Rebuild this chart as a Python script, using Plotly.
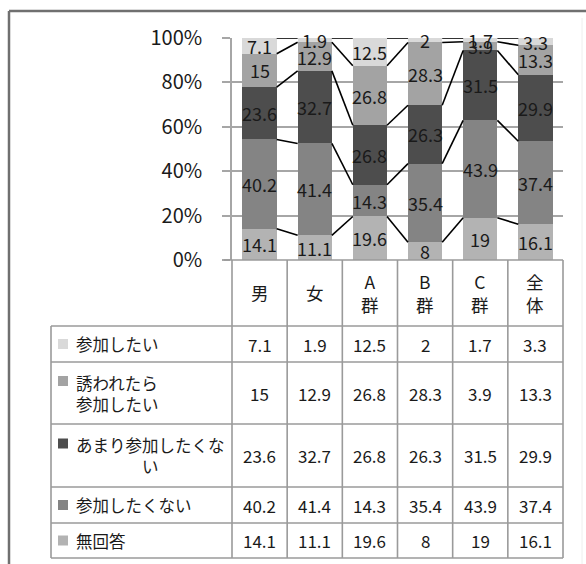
import plotly.graph_objects as go

# ---------------- data ----------------
categories = ["男", "女", "A群", "B群", "C群", "全体"]
series_names = ["参加したい", "誘われたら参加したい", "あまり参加したくない", "参加したくない", "無回答"]
row_labels = ["参加したい", "誘われたら<br>参加したい", "あまり参加したくな<br>い", "参加したくない", "無回答"]
v_sanka = [7.1, 1.9, 12.5, 2, 1.7, 3.3]
v_sasowaretara = [15, 12.9, 26.8, 28.3, 3.9, 13.3]
v_amari = [23.6, 32.7, 26.8, 26.3, 31.5, 29.9]
v_shitakunai = [40.2, 41.4, 14.3, 35.4, 43.9, 37.4]
v_mukaitou = [14.1, 11.1, 19.6, 8, 19, 16.1]
tick_vals = [0, 20, 40, 60, 80, 100]
tick_labels = ["0%", "20%", "40%", "60%", "80%", "100%"]

series_values = [v_sanka, v_sasowaretara, v_amari, v_shitakunai, v_mukaitou]  # table order (top row first)
colors = ["#d9d9d9", "#a3a3a3", "#4d4d4d", "#848484", "#b3b3b3"]

# ---------------- layout constants (pixels) ----------------
W, H = 586, 564
PL, PR = 232, 563          # plot area left/right
Y0, Y100 = 260, 38         # 0% and 100% pixel rows
TL = 51                    # table label column left
ROW_EDGES = [326, 362, 424, 487, 523, 558]
FONT = "Noto Sans CJK JP"
GRID = "#a6a6a6"
TXT = "#1a1a1a"
n = len(categories)
colw = (PR - PL) / n
BAR_W = 0.62


def fx(x):
    return x / W


def fy(y):
    return 1 - y / H


# percent-normalised stacks (bottom to top)
totals = [sum(s[i] for s in series_values) for i in range(n)]
stack_order = list(reversed(range(len(series_values))))  # 無回答 at bottom
pct = {k: [series_values[k][i] / totals[i] * 100 for i in range(n)] for k in range(len(series_values))}

fig = go.Figure()
xs = list(range(n))
for k in stack_order:
    fig.add_trace(go.Bar(
        x=xs, y=pct[k], name=series_names[k], width=BAR_W,
        marker=dict(color=colors[k], line=dict(width=0)),
        hoverinfo="skip", showlegend=False,
    ))

# series lines + bar labels
annotations = []
cum = [0.0] * n
line_x, line_y = [], []
for k in stack_order:
    mids = []
    for i in range(n):
        mids.append(cum[i] + pct[k][i] / 2)
        cum[i] += pct[k][i]
    for i in range(n):
        annotations.append(dict(x=xs[i], y=mids[i], xref="x", yref="y", text=f"{series_values[k][i]:g}",
                                xanchor="center", yanchor="middle",
                                showarrow=False, font=dict(family=FONT, size=18, color=TXT)))
    for i in range(n - 1):
        line_x += [xs[i] + BAR_W / 2, xs[i + 1] - BAR_W / 2, None]
        line_y += [cum[i], cum[i + 1], None]
fig.add_trace(go.Scatter(x=line_x, y=line_y, mode="lines", line=dict(color="black", width=1.6),
                         hoverinfo="skip", showlegend=False))

# ---------------- data table ----------------
shapes = []
tcol = "#9a9a9a"
# outer frame of image
shapes.append(dict(type="line", xref="paper", yref="paper", x0=fx(9), x1=1, y0=fy(11), y1=fy(11),
                   line=dict(color="#707070", width=2.5)))
shapes.append(dict(type="line", xref="paper", yref="paper", x0=fx(9), x1=fx(9), y0=fy(11), y1=0,
                   line=dict(color="#707070", width=2.5)))
shapes.append(dict(type="line", xref="paper", yref="paper", x0=fx(582), x1=fx(582), y0=fy(18), y1=0,
                   line=dict(color="#eeeeee", width=1)))

# horizontal table lines
shapes.append(dict(type="line", xref="paper", yref="paper", x0=fx(PL - 8), x1=fx(PR), y0=fy(Y0), y1=fy(Y0),
                   line=dict(color=tcol, width=1.6)))
for y in ROW_EDGES:
    shapes.append(dict(type="line", xref="paper", yref="paper", x0=fx(TL), x1=fx(PR), y0=fy(y), y1=fy(y),
                       line=dict(color=tcol, width=1.6)))
# vertical table lines
for i in range(n + 1):
    x = PL + i * colw
    shapes.append(dict(type="line", xref="paper", yref="paper", x0=fx(x), x1=fx(x), y0=fy(Y0), y1=fy(ROW_EDGES[-1]),
                       line=dict(color=tcol, width=1.6)))
shapes.append(dict(type="line", xref="paper", yref="paper", x0=fx(TL), x1=fx(TL), y0=fy(ROW_EDGES[0]),
                   y1=fy(ROW_EDGES[-1]), line=dict(color=tcol, width=1.6)))

# header
for i, c in enumerate(categories):
    cx = PL + (i + 0.5) * colw
    annotations.append(dict(x=fx(cx), y=fy((Y0 + ROW_EDGES[0]) / 2), xref="paper", yref="paper",
                            xanchor="center", yanchor="middle",
                            text="<br>".join(list(c)), showarrow=False,
                            font=dict(family=FONT, size=17.5, color=TXT)))

# rows
for r in range(len(series_values)):
    top, bot = ROW_EDGES[r], ROW_EDGES[r + 1]
    cy = (top + bot) / 2
    two_line = "<br>" in row_labels[r]
    ky = cy - 12 if two_line else cy
    shapes.append(dict(type="rect", xref="paper", yref="paper", x0=fx(58), x1=fx(68), y0=fy(ky - 5), y1=fy(ky + 5),
                       fillcolor=colors[r], line=dict(width=0)))
    align = "center" if r == 2 else "left"
    annotations.append(dict(x=fx(74), y=fy(cy), xref="paper", yref="paper", xanchor="left", yanchor="middle",
                            text=row_labels[r], align=align, showarrow=False,
                            font=dict(family=FONT, size=16.5, color=TXT)))
    for i in range(n):
        cx = PL + (i + 0.5) * colw
        annotations.append(dict(x=fx(cx), y=fy(cy), xref="paper", yref="paper", xanchor="center", yanchor="middle",
                                text=f"{series_values[r][i]:g}", showarrow=False,
                                font=dict(family=FONT, size=17, color=TXT)))

fig.update_layout(
    width=W, height=H, margin=dict(l=0, r=0, t=0, b=0, autoexpand=False),
    paper_bgcolor="white", plot_bgcolor="white",
    barmode="stack", bargap=0,
    shapes=shapes, annotations=annotations,
    xaxis=dict(domain=[fx(PL), fx(PR)], range=[-0.5, n - 0.5], visible=False, fixedrange=True),
    yaxis=dict(domain=[fy(Y0), fy(Y100)], range=[0, 100], tickvals=tick_vals, ticktext=tick_labels,
               automargin=False,
               showgrid=True, gridcolor=GRID, gridwidth=1.6, zeroline=False,
               showline=True, linecolor=GRID, linewidth=1.6,
               ticks="outside", ticklen=8, tickcolor=GRID, tickwidth=1.6,
               ticklabelstandoff=16,
               tickfont=dict(family=FONT, size=20, color=TXT), fixedrange=True),
    showlegend=False,
)

fig.write_html("out.html")
